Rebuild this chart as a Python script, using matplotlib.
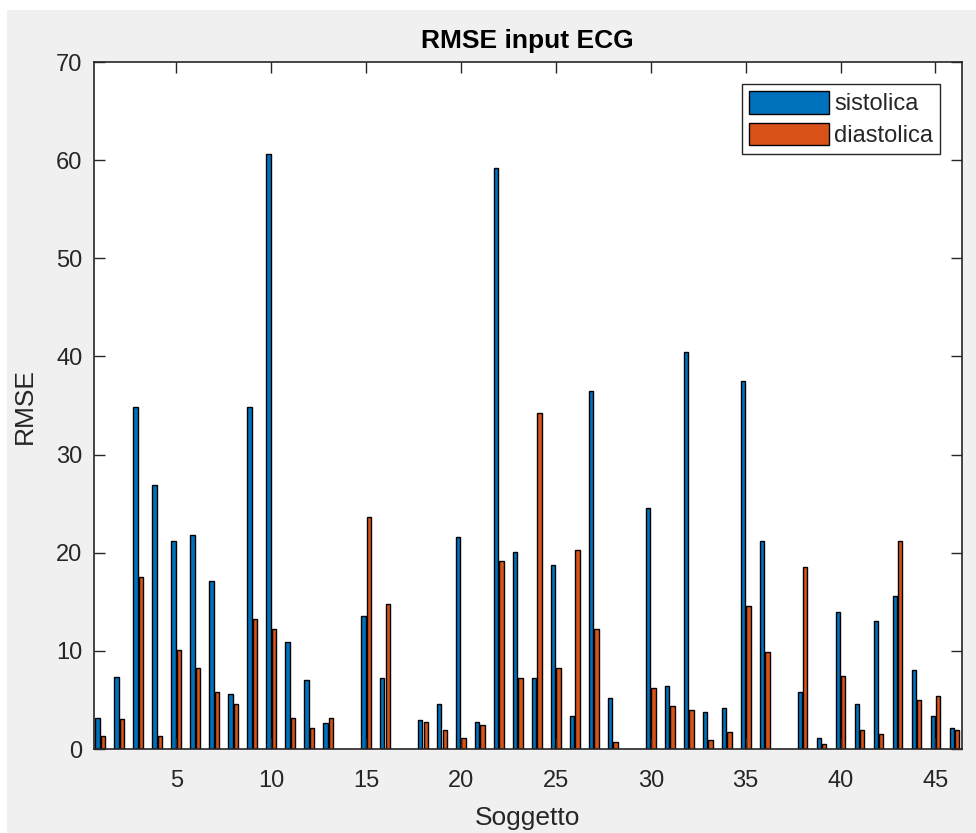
import numpy as np
import matplotlib
matplotlib.use("Agg")
import matplotlib.pyplot as plt
from matplotlib.patches import Rectangle

# RMSE per subject (subjects 14, 17, 29, 37 have no value)
soggetti = np.arange(1, 47)
sistolica = [3.2, 7.3, 34.8, 26.9, 21.2, 21.8, 17.1, 5.65, 34.8, 60.6,
             10.95, 7.07, 2.6, 0.0, 13.6, 7.28, 0.0, 3.0, 4.6, 21.6,
             2.8, 59.15, 20.1, 7.28, 18.7, 3.4, 36.5, 5.2, 0.0, 24.6,
             6.46, 40.5, 3.8, 4.2, 37.5, 21.2, 0.0, 5.85, 1.15, 14.0,
             4.6, 13.0, 15.6, 8.1, 3.4, 2.17]
diastolica = [1.36, 3.03, 17.5, 1.36, 10.1, 8.3, 5.85, 4.6, 13.2, 12.2,
              3.2, 2.17, 3.2, 0.0, 23.6, 14.8, 0.0, 2.8, 1.97, 1.16,
              2.4, 19.15, 7.28, 34.2, 8.3, 20.3, 12.2, 0.75, 0.0, 6.26,
              4.42, 4.0, 0.95, 1.77, 14.6, 9.9, 0.0, 18.5, 0.54, 7.48,
              1.97, 1.56, 21.15, 5.03, 5.44, 1.97]
serie = ["sistolica", "diastolica"]
colori = ["#0072BD", "#D95319"]
xticks = [5, 10, 15, 20, 25, 30, 35, 40, 45]
yticks = [0, 10, 20, 30, 40, 50, 60, 70]

plt.rcParams["font.family"] = ["Liberation Sans", "DejaVu Sans"]
txt = "#262626"

fig = plt.figure(figsize=(9.76, 8.33), dpi=100, facecolor="white")
# light grey window background
fig.patches.append(Rectangle((7 / 976, 0), 1 - 7 / 976, 1 - 10 / 833,
                             transform=fig.transFigure, facecolor="#f0f0f0",
                             edgecolor="none", zorder=-10))

ax = fig.add_axes([93.5 / 976, 1 - 749 / 833, (962 - 93.5) / 976, (749 - 62) / 833])
ax.set_facecolor("white")

w = 0.229
off = 0.143
ax.bar(soggetti - off, sistolica, width=w, color=colori[0], edgecolor="black",
       linewidth=1.0, label=serie[0])
ax.bar(soggetti + off, diastolica, width=w, color=colori[1], edgecolor="black",
       linewidth=1.0, label=serie[1])

ax.set_xlim(0.64, 46.4)
ax.set_ylim(0, 70)
ax.set_xticks(xticks)
ax.set_yticks(yticks)
ax.tick_params(direction="in", length=8, width=1, colors=txt, labelsize=17,
               top=True, right=True, labeltop=False, labelright=False, pad=8)
ax.tick_params(axis="x", pad=15)
for s in ax.spines.values():
    s.set_color(txt)
    s.set_linewidth(1.2)

ax.set_title("RMSE input ECG", fontsize=19, fontweight="bold", color="black", pad=10)
ax.set_xlabel("Soggetto", fontsize=19, color=txt, labelpad=10)
ax.set_ylabel("RMSE", fontsize=19, color=txt, labelpad=14)

leg = ax.legend(loc="upper right", bbox_to_anchor=((940 - 93.5) / 868.5, 0.968),
                fontsize=17, frameon=True, fancybox=False, edgecolor=txt,
                framealpha=1, handlelength=3.4, handleheight=1.1,
                handletextpad=0.2, borderpad=0.3, labelspacing=0.3,
                borderaxespad=0)
leg.get_frame().set_linewidth(1.0)
for t in leg.get_texts():
    t.set_color(txt)

fig.savefig("out.png", dpi=100, facecolor=fig.get_facecolor())
